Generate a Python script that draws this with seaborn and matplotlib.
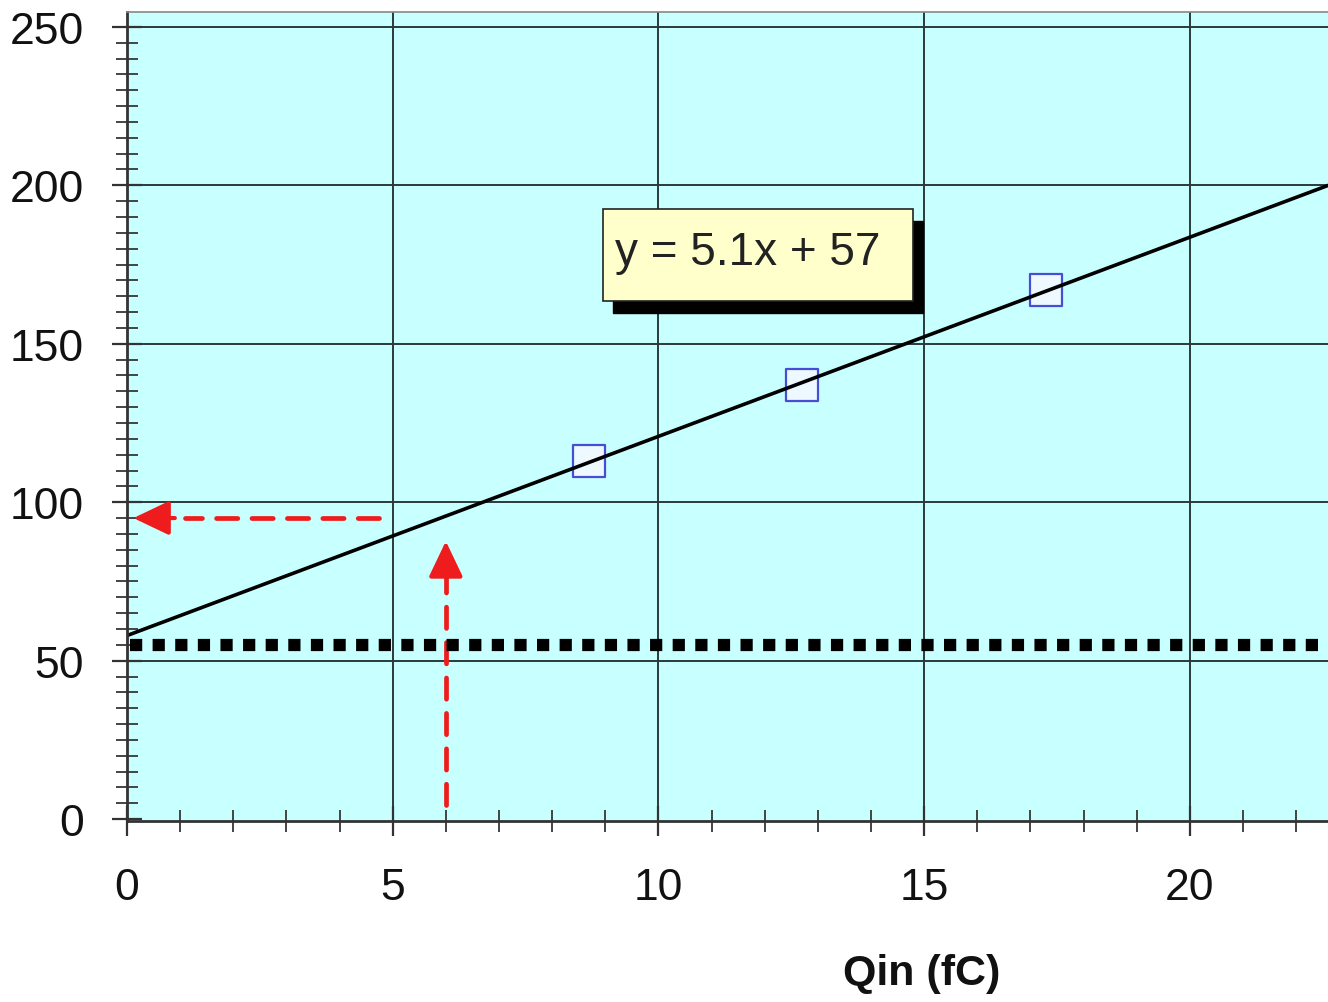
import matplotlib
matplotlib.use("Agg")
import matplotlib.pyplot as plt
from matplotlib.patches import Rectangle
from matplotlib.ticker import MultipleLocator
import numpy as np
import pandas as pd
import seaborn as sns

# Calibration points: input charge (fC) vs measured output
qin_fc = [8.7, 12.7, 17.3]
output = [113.0, 137.0, 167.0]

fit_label = "y = 5.1x + 57"
threshold = 55.0          # dotted threshold level
readout_level = 95.0      # level read back on the y axis
readout_charge = 6.0      # charge marked on the x axis

x_ticks = [0, 5, 10, 15, 20]
y_ticks = [0, 50, 100, 150, 200, 250]

df = pd.DataFrame({"Qin": qin_fc, "out": output})

sns.set_style("ticks")
plt.rcParams["font.family"] = ["Liberation Sans", "DejaVu Sans"]

fig = plt.figure(figsize=(13.28, 10.03), dpi=100)
ax = fig.add_axes([127 / 1328, 1 - 822 / 1003, 1 - 127 / 1328, (822 - 13) / 1003])
ax.set_facecolor("#c8ffff")

x_lim = (0, 22.6)
y_lim = (-0.6, 254.7)
ax.set_xlim(*x_lim)
ax.set_ylim(*y_lim)

# grid
for xv in x_ticks[1:]:
    ax.axvline(xv, color="#2a3a3a", lw=1.4, zorder=0.5)
for yv in y_ticks[1:]:
    ax.axhline(yv, color="#2a3a3a", lw=1.4, zorder=0.5)

# red read-back arrows (drawn below the dotted threshold)
red = "#ee1c1c"
head = "-|>,head_length=2.2,head_width=1.05"
ax.plot([4.75, 1.1], [readout_level, readout_level], color=red, lw=3.4,
        linestyle=(0, (4.5, 3.0)), dash_capstyle="round", zorder=1.5)
ax.annotate("", xy=(0.12, readout_level), xytext=(0.9, readout_level),
            arrowprops=dict(arrowstyle=head, color=red, lw=3, shrinkA=0, shrinkB=0),
            zorder=1.5)
ax.plot([readout_charge, readout_charge], [4.4, 76], color=red, lw=3.4,
        linestyle=(0, (4.5, 3.0)), dash_capstyle="round", zorder=1.5)
ax.annotate("", xy=(readout_charge, 87.7), xytext=(readout_charge, 77),
            arrowprops=dict(arrowstyle=head, color=red, lw=3, shrinkA=0, shrinkB=0),
            zorder=1.5)

# dotted threshold
ax.plot([0.05, x_lim[1]], [threshold, threshold], color="black", lw=8.8,
        linestyle=(0, (1.0, 0.85)), dash_capstyle="butt", zorder=1.8)

# calibration points and fitted line
sns.regplot(data=df, x="Qin", y="out", ax=ax, ci=None, truncate=False,
            marker="s",
            scatter_kws=dict(s=530, facecolor="#f8f8ff", edgecolor="#2222cc",
                             linewidths=1.6, zorder=2),
            line_kws=dict(color="black", lw=2.6, zorder=2.5))

ax.set_xlim(*x_lim)
ax.set_ylim(*y_lim)

# equation box with drop shadow
bx, by, bw, bh = 8.96, 163.4, 5.83, 29.0
ax.add_patch(Rectangle((bx + 0.19, by - 3.8), bw, bh, facecolor="black",
                       edgecolor="black", zorder=3))
ax.add_patch(Rectangle((bx, by), bw, bh, facecolor="#ffffcc",
                       edgecolor="#222222", lw=1.2, zorder=3.1))
ax.text(bx + 0.22, by + bh / 2 + 1.2, fit_label, fontsize=33, color="#222222",
        ha="left", va="center", zorder=3.2)

# axes, ticks and labels
ax.set_xticks(x_ticks)
ax.set_yticks(y_ticks)
ax.xaxis.set_minor_locator(MultipleLocator(1))
ax.yaxis.set_minor_locator(MultipleLocator(5))
ax.tick_params(axis="both", which="major", direction="inout", length=22, width=1.6,
               color="#333333", labelsize=32, labelcolor="#111111")
ax.tick_params(axis="both", which="minor", direction="inout", length=16, width=1.4,
               color="#444444")
ax.tick_params(axis="x", which="major", pad=22)
ax.tick_params(axis="y", which="major", pad=20)

for side in ["left", "bottom"]:
    ax.spines[side].set_color("#333333")
    ax.spines[side].set_linewidth(2)
ax.spines["top"].set_color("#888888")
ax.spines["top"].set_linewidth(1.2)
ax.spines["right"].set_visible(False)

ax.set_ylabel("")
ax.set_xlabel("Qin (fC)", fontsize=31, fontweight="bold", color="#111111")
ax.xaxis.set_label_coords(0.662, -0.163)

fig.savefig("out.png", dpi=100)
